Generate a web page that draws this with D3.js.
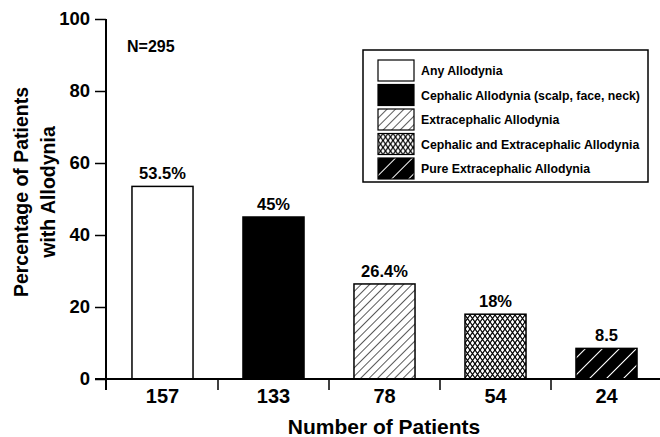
<!DOCTYPE html>
<html><head><meta charset="utf-8">
<script src="https://cdn.jsdelivr.net/npm/d3@7"></script>
<style>body{margin:0;background:#fff;} svg{display:block;font-family:"Liberation Sans",Arial,Helvetica,sans-serif;font-weight:bold;}</style>
</head><body>
<script>
const categories = ["157","133","78","54","24"];
const seriesNames = ["Any Allodynia","Cephalic Allodynia (scalp, face, neck)","Extracephalic Allodynia","Cephalic and Extracephalic Allodynia","Pure Extracephalic Allodynia"];
const values = [53.5, 45, 26.4, 18, 8.5];
const valueLabels = ["53.5%","45%","26.4%","18%","8.5"];
const yTicks = [0,20,40,60,80,100];
const fills = ["#fff","#000","url(#diag)","url(#cross)","url(#pure)"];

const W=660,H=437;
const svg=d3.select("body").append("svg").attr("width",W).attr("height",H);
const defs=svg.append("defs");
const p1=defs.append("pattern").attr("id","diag").attr("patternUnits","userSpaceOnUse").attr("width",6).attr("height",6).attr("patternTransform","rotate(45)");
p1.append("rect").attr("width",6).attr("height",6).attr("fill","#fff");
p1.append("line").attr("x1",0).attr("y1",0).attr("x2",0).attr("y2",6).attr("stroke","#000").attr("stroke-width",1.3);
const p2=defs.append("pattern").attr("id","cross").attr("patternUnits","userSpaceOnUse").attr("width",5).attr("height",7);
p2.append("rect").attr("width",5).attr("height",7).attr("fill","#fff");
p2.append("path").attr("d","M0,0L5,7M5,0L0,7").attr("stroke","#000").attr("stroke-width",1.2);
const p3=defs.append("pattern").attr("id","pure").attr("patternUnits","userSpaceOnUse").attr("width",12).attr("height",12).attr("patternTransform","rotate(45)");
p3.append("rect").attr("width",12).attr("height",12).attr("fill","#000");
p3.append("line").attr("x1",0).attr("y1",0).attr("x2",0).attr("y2",12).attr("stroke","#fff").attr("stroke-width",2);

const x=d3.scaleBand().domain(categories).range([107,662]).paddingInner(0.45).paddingOuter(0.225);
const y=d3.scaleLinear().domain([0,100]).range([379,19]);

// bars
svg.selectAll("rect.bar").data(values).enter().append("rect").attr("class","bar")
 .attr("x",(d,i)=>x(categories[i])).attr("width",x.bandwidth())
 .attr("y",d=>y(d)).attr("height",d=>y(0)-y(d))
 .attr("fill",(d,i)=>fills[i]).attr("stroke","#000").attr("stroke-width",1.5);

svg.selectAll("text.vl").data(values).enter().append("text")
 .attr("x",(d,i)=>x(categories[i])+x.bandwidth()/2).attr("y",d=>y(d)-7)
 .attr("text-anchor","middle").attr("font-size",16.5).text((d,i)=>valueLabels[i]);

// y axis
const ya=svg.append("g").attr("transform","translate(106,0)")
 .call(d3.axisLeft(y).tickValues(yTicks).tickSize(11).tickPadding(5));
ya.select(".domain").attr("stroke-width",2).attr("d","M0,19V390");
ya.selectAll(".tick line").attr("stroke-width",1.5);
ya.selectAll("text").attr("font-size",18.5).attr("font-family","inherit").attr("font-weight","bold").attr("fill","#000");

// x axis
const xa=svg.append("g").attr("transform","translate(0,379)");
xa.append("line").attr("x1",95).attr("x2",662).attr("y1",0).attr("y2",0).attr("stroke","#000").attr("stroke-width",2);
xa.selectAll("line.xt").data(categories.slice(1)).enter().append("line")
 .attr("x1",d=>x(d)-x.step()*x.paddingOuter()).attr("x2",d=>x(d)-x.step()*x.paddingOuter())
 .attr("y1",0).attr("y2",11).attr("stroke","#000").attr("stroke-width",1.5);
xa.selectAll("text").data(categories).enter().append("text")
 .attr("x",d=>x(d)+x.bandwidth()/2).attr("y",24).attr("text-anchor","middle").attr("font-size",20).text(d=>d);

svg.append("text").attr("x",384).attr("y",434).attr("text-anchor","middle").attr("font-size",21).text("Number of Patients");
const yt=svg.append("text").attr("transform","translate(28,192) rotate(-90)").attr("text-anchor","middle").attr("font-size",19.5);
yt.append("tspan").attr("x",0).attr("dy",0).text("Percentage of Patients");
yt.append("tspan").attr("x",0).attr("dy",27).text("with Allodynia");

svg.append("text").attr("x",127).attr("y",52).attr("font-size",16).text("N=295");

// legend
const lg=svg.append("g");
lg.append("rect").attr("x",363).attr("y",50).attr("width",285).attr("height",132).attr("fill","#fff").attr("stroke","#000").attr("stroke-width",1.5);
const rows=lg.selectAll("g.r").data(seriesNames).enter().append("g").attr("transform",(d,i)=>`translate(378,${60+i*24.5})`);
rows.append("rect").attr("width",36).attr("height",21).attr("fill",(d,i)=>fills[i]).attr("stroke","#000").attr("stroke-width",1.2);
rows.append("text").attr("x",43).attr("y",15).attr("font-size",12.3).text(d=>d);
</script>
</body></html>
